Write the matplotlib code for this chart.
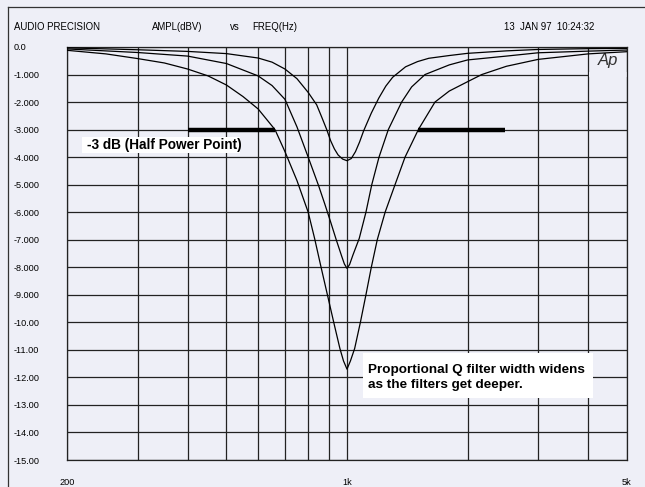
import matplotlib
matplotlib.use("Agg")
import matplotlib.pyplot as plt
from matplotlib.patches import Rectangle

# readings off the sweep, dB vs Hz, three cuts at 1k
freq_shallow = [200, 300, 400, 500, 600, 650, 700, 750, 800, 840, 865, 890, 910, 930, 950, 975,
                1000, 1025, 1050, 1075, 1100, 1150, 1200, 1250, 1300, 1400, 1500, 1600, 1800,
                2000, 2500, 3000, 4000, 5000]
db_shallow = [-0.03, -0.10, -0.16, -0.24, -0.40, -0.55, -0.80, -1.15, -1.65, -2.10, -2.55, -3.00,
              -3.40, -3.70, -3.92, -4.07, -4.13, -4.05, -3.80, -3.45, -3.05, -2.40, -1.86, -1.42,
              -1.10, -0.72, -0.53, -0.41, -0.31, -0.23, -0.14, -0.09, -0.06, -0.05]

freq_mid = [200, 300, 400, 500, 600, 650, 700, 750, 800, 850, 880, 910, 940, 970, 985, 1000,
            1015, 1035, 1073, 1115, 1153, 1202, 1268, 1369, 1450, 1566, 1800, 2000, 2500, 3000,
            4000, 5000]
db_mid = [-0.07, -0.20, -0.33, -0.60, -1.05, -1.40, -1.90, -2.90, -4.00, -5.05, -5.70, -6.35,
          -7.00, -7.60, -7.88, -8.04, -7.90, -7.55, -6.95, -6.00, -5.00, -4.00, -3.00, -2.00,
          -1.45, -1.00, -0.65, -0.47, -0.33, -0.21, -0.15, -0.11]

freq_deep = [200, 250, 300, 350, 400, 450, 500, 550, 600, 661, 700, 750, 800, 830, 860, 900, 930,
             960, 980, 1000, 1020, 1045, 1080, 1115, 1150, 1190, 1245, 1318, 1396, 1507, 1658,
             1800, 2000, 2170, 2500, 3000, 4000, 5000]
db_deep = [-0.12, -0.25, -0.42, -0.58, -0.80, -1.05, -1.38, -1.80, -2.25, -3.00, -3.80, -4.85,
           -6.00, -6.95, -7.95, -9.20, -10.10, -10.95, -11.40, -11.70, -11.40, -10.95, -10.00,
           -9.00, -8.00, -7.00, -6.00, -5.00, -4.00, -3.00, -2.00, -1.60, -1.26, -1.00, -0.70,
           -0.45, -0.25, -0.17]

# -3 dB markers
half_power_db = -3
marker_left = [400, 661]
marker_right = [1507, 2482]

grid_freqs = [300, 400, 500, 600, 700, 800, 900, 2000, 3000, 4000]
label_freqs = [200, 1000, 5000]
label_names = ["200", "1k", "5k"]
db_ticks = list(range(0, -16, -1))
db_names = ["0.0"] + ["-%d.000" % i for i in range(1, 10)] + ["-%d.00" % i for i in range(10, 16)]

W, H = 645, 487
bg = "#eeeff7"
fig = plt.figure(figsize=(6.45, 4.87), dpi=100, facecolor=bg)
ax = fig.add_axes([67/W, 27/H, 560/W, 413/H])
ax.set_facecolor(bg)

for f, d in [(freq_shallow, db_shallow), (freq_mid, db_mid), (freq_deep, db_deep)]:
    ax.plot(f, d, color="black", lw=0.9, zorder=3)

ax.plot(marker_left, [half_power_db]*2, color="black", lw=3.2, solid_capstyle="butt", zorder=4)
ax.plot(marker_right, [half_power_db]*2, color="black", lw=3.2, solid_capstyle="butt", zorder=4)

ax.set_xscale("log")
ax.set_xlim(200, 5000)
ax.set_ylim(-15, 0)
ax.set_xticks(label_freqs)
ax.set_xticklabels(label_names)
ax.set_xticks(grid_freqs, minor=True)
ax.set_xticklabels([], minor=True)
ax.set_yticks(db_ticks)
ax.set_yticklabels(db_names)
ax.grid(True, which="both", color="#222222", lw=0.9)
ax.set_axisbelow(True)

font = ["Liberation Sans", "DejaVu Sans"]
ax.tick_params(which="both", length=0)
ax.tick_params(axis="y", pad=38.2, labelsize=6.6)
ax.tick_params(axis="x", pad=13, labelsize=6.6)
for t in ax.get_yticklabels():
    t.set_horizontalalignment("left")
    t.set_family(font)
for t in ax.get_xticklabels():
    t.set_family(font)
for s in ax.spines.values():
    s.set_color("#222222")
    s.set_linewidth(0.9)

# "Ap" corner cell, no -1 line there
ax.add_patch(Rectangle((4030, -1.08), 960, 0.16, facecolor=bg, edgecolor="none", zorder=1))
ax.text(4480, -0.5, "Ap", style="italic", fontsize=12, color="#333333",
        ha="center", va="center", family=font, zorder=2)

# white label boxes (pixel layout)
def box(x0, y0, x1, y1):
    fig.add_artist(Rectangle((x0/W, 1-y1/H), (x1-x0)/W, (y1-y0)/H, transform=fig.transFigure,
                             facecolor="white", edgecolor="none", zorder=5))

box(82, 137, 240, 153)
fig.text(87/W, 1-145/H, "-3 dB (Half Power Point)", fontsize=9.8, fontweight="bold",
         family=font, va="center", zorder=6)
box(363, 353, 593, 398)
fig.text(368/W, 1-377.5/H, "Proportional Q filter width widens\nas the filters get deeper.",
         fontsize=9.7, fontweight="bold", family=font, va="center", linespacing=1.25, zorder=6)

# header
hdr = dict(fontsize=6.9, family=font, va="center")
fig.text(14/W, 1-27/H, "AUDIO PRECISION", **hdr)
fig.text(152/W, 1-27/H, "AMPL(dBV)", **hdr)
fig.text(230/W, 1-27/H, "vs", **hdr)
fig.text(252/W, 1-27/H, "FREQ(Hz)", **hdr)
fig.text(504/W, 1-27/H, "13  JAN 97  10:24:32", **hdr)

# outer frame
fig.add_artist(plt.Line2D([8/W, 8/W], [0, 1-7/H], color="#333333", lw=0.9))
fig.add_artist(plt.Line2D([8/W, 1], [1-7/H, 1-7/H], color="#333333", lw=0.9))

fig.savefig("out.png", dpi=100, facecolor=bg)
